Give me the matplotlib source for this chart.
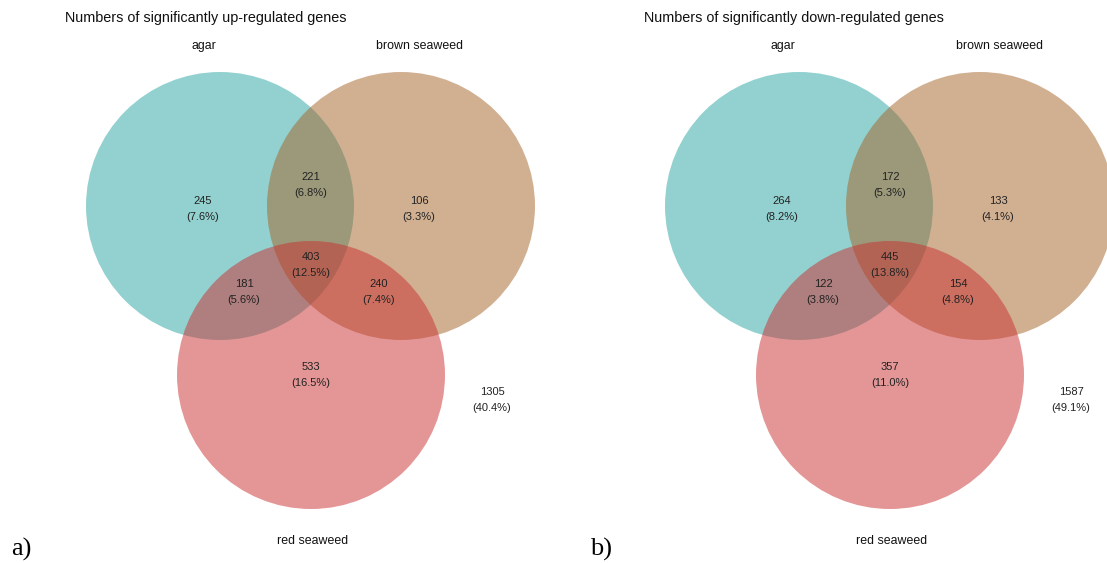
import matplotlib
matplotlib.use("Agg")
import matplotlib.pyplot as plt
from matplotlib.patches import Circle

plt.rcParams['font.family'] = ['Liberation Sans', 'DejaVu Sans']

# set names and region counts (order: A only, B only, AB, C only, AC, BC, ABC, none)
set_names = ["agar", "brown seaweed", "red seaweed"]
regions = ["A", "B", "AB", "C", "AC", "BC", "ABC", "none"]
up_counts = [245, 106, 221, 533, 181, 240, 403, 1305]
down_counts = [264, 133, 172, 357, 122, 154, 445, 1587]
titles = ["Numbers of significantly up-regulated genes",
          "Numbers of significantly down-regulated genes"]
panel_tags = ["a)", "b)"]

set_colors = ["#27a5a1", "#a56327", "#cb2f2f"]

W, H = 1107, 563
PW = 579  # panel width in pixels

# layout of the diagram inside one panel (pixel units)
circle_xy = [(220, 206), (401, 206), (311, 375)]
radius = 134
label_xy = {"A": (203, 209), "B": (419, 209), "AB": (311, 185),
            "C": (311, 375), "AC": (244, 292), "BC": (379, 292),
            "ABC": (311, 265), "none": (492, 400)}
name_xy = [(204, 46), (420, 46), (313, 541)]

fig = plt.figure(figsize=(W / 100, H / 100), dpi=100)

for p, counts in enumerate([up_counts, down_counts]):
    ax = fig.add_axes([p * PW / W, 0, PW / W, 1])
    ax.set_xlim(0, PW)
    ax.set_ylim(H, 0)
    ax.axis("off")
    for (cx, cy), col in zip(circle_xy, set_colors):
        ax.add_patch(Circle((cx, cy), radius, facecolor=col, alpha=0.5,
                            edgecolor="none"))
    total = sum(counts)
    for reg, n in zip(regions, counts):
        x, y = label_xy[reg]
        ax.text(x, y - 8, str(n), ha="center", va="center", fontsize=8,
                color="#222222")
        ax.text(x, y + 8, "(%.1f%%)" % (100 * n / total), ha="center",
                va="center", fontsize=8, color="#222222")
    for (x, y), name in zip(name_xy, set_names):
        ax.text(x, y, name, ha="center", va="center", fontsize=8.9,
                color="#111111")
    ax.text(65, 18, titles[p], ha="left", va="center", fontsize=10.4,
            color="#111111")
    ax.text(11, 549, panel_tags[p], ha="left", va="center", fontsize=19,
            family=["Liberation Serif", "DejaVu Serif"], color="black")

fig.savefig("out.png", dpi=100)
